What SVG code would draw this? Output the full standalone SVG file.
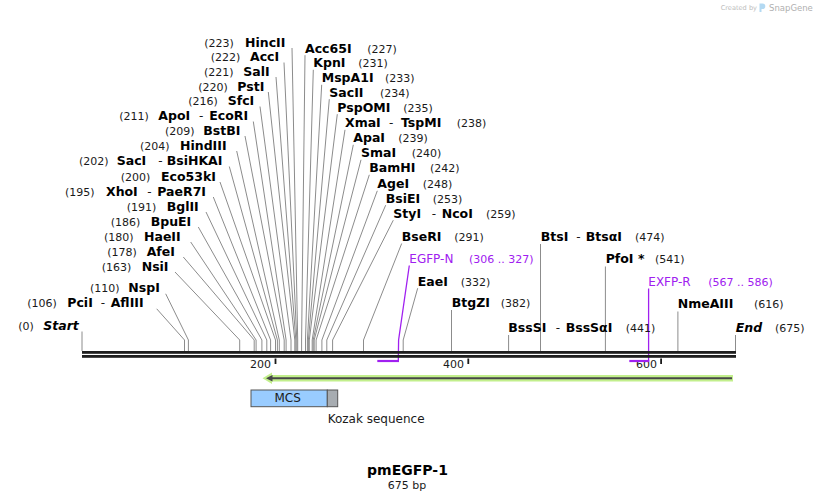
<svg xmlns="http://www.w3.org/2000/svg" width="818" height="501" viewBox="0 0 818 501">
<style>
text{font-family:"DejaVu Sans","Liberation Sans",sans-serif;fill:#1a1a1a}
.n{font-size:11px}
.b{font-size:12.5px;font-weight:bold;fill:#000}
.bi{font-size:12.5px;font-weight:bold;font-style:italic;fill:#000}
.d{font-size:12px}
.p{font-size:12px;fill:#a020f0}
.pn{font-size:11px;fill:#a020f0}
.ld{fill:none;stroke:#8c8c8c;stroke-width:1}
.pl{fill:none;stroke:#a020f0;stroke-width:1.3}
.pb{fill:none;stroke:#a020f0;stroke-width:2.2}
.tk{fill:#1a1a1a}
.tl{font-size:11px}
</style>
<rect width="818" height="501" fill="#fff"/>

<g id="watermark">
<text x="720.7" y="10" style="font-size:6.6px;fill:#bdbdbd">Created by</text>
<path d="M759.5,3.5 h3 a2.8,2.8 0 0 1 0,5.6 h-1 v3 h-2 z" fill="#b3d9f2"/>
<text x="769" y="11" style="font-size:8.5px;fill:#b0b0b0">SnapGene</text>
</g>

<g id="connectors">
<!-- left -->
<polyline class="ld" points="292,48 297.7,340 297.7,351"/>
<polyline class="ld" points="284,62.5 296.8,340 296.8,351"/>
<polyline class="ld" points="276,77 295.8,340 295.8,351"/>
<polyline class="ld" points="268.3,92 294.8,340 294.8,351"/>
<polyline class="ld" points="260,106.5 291,340 291,351"/>
<polyline class="ld" points="253.3,121.5 286.1,340 286.1,351"/>
<polyline class="ld" points="245,136 284.2,340 284.2,351"/>
<polyline class="ld" points="236.7,151 279.3,340 279.3,351"/>
<polyline class="ld" points="229.3,166.5 277.4,340 277.4,351"/>
<polyline class="ld" points="220,182 275.5,340 275.5,351"/>
<polyline class="ld" points="213.3,197 270.6,340 270.6,351"/>
<polyline class="ld" points="206,212 266.8,340 266.8,351"/>
<polyline class="ld" points="198.3,227 261.9,340 261.9,351"/>
<polyline class="ld" points="190.7,242 256.1,340 256.1,351"/>
<polyline class="ld" points="183.3,257 254.2,340 254.2,351"/>
<polyline class="ld" points="175,272 239.7,340 239.7,351"/>
<polyline class="ld" points="165.7,293.8 188.4,340 188.4,351"/>
<polyline class="ld" points="156.7,308.8 184.5,340 184.5,351"/>
<polyline class="ld" points="82,331.5 82,351"/>
<!-- right -->
<polyline class="ld" points="305,55.2 301.6,340 301.6,351"/>
<polyline class="ld" points="313.3,69.8 305.5,340 305.5,351"/>
<polyline class="ld" points="321.7,84.8 307.4,340 307.4,351"/>
<polyline class="ld" points="329.3,99.2 308.4,340 308.4,351"/>
<polyline class="ld" points="337.3,114.2 309.3,340 309.3,351"/>
<polyline class="ld" points="345,129.8 312.2,340 312.2,351"/>
<polyline class="ld" points="353.3,144.8 313.2,340 313.2,351"/>
<polyline class="ld" points="361,159.8 314.2,340 314.2,351"/>
<polyline class="ld" points="369.3,174.8 316.1,340 316.1,351"/>
<polyline class="ld" points="377.3,190.8 321.9,340 321.9,351"/>
<polyline class="ld" points="385.7,205.2 326.8,340 326.8,351"/>
<polyline class="ld" points="393.3,220.2 332.6,340 332.6,351"/>
<polyline class="ld" points="401.7,243.5 363.5,340 363.5,351"/>
<polyline class="ld" points="417.7,288.2 403.2,340 403.2,351"/>
<polyline class="ld" points="451.5,310 451.5,351"/>
<polyline class="ld" points="540.5,244 540.5,351"/>
<polyline class="ld" points="605.4,266.5 605.4,351"/>
<polyline class="ld" points="677.9,311.5 677.9,351"/>
<polyline class="ld" points="508.6,335 508.6,351"/>
<polyline class="ld" points="735.5,335 735.5,351"/>
<!-- primers -->
<polyline class="pl" points="409.3,265.5 398.6,340 398.3,361"/>
<polyline class="pl" points="648.6,288.5 648.6,361"/>
</g>

<g id="backbone">
<rect x="82" y="351" width="654" height="2.8" fill="#1e1e1e"/>
<rect x="82" y="355" width="654" height="2.8" fill="#1e1e1e"/>
</g>

<g id="ruler">
<rect class="tk" x="274.6" y="358.5" width="1.8" height="5.5"/>
<rect class="tk" x="467.4" y="358.5" width="1.8" height="5.5"/>
<rect class="tk" x="660.2" y="358.5" width="1.8" height="5.5"/>
<text class="tl" x="271" y="368" text-anchor="end">200</text>
<text class="tl" x="464" y="368" text-anchor="end">400</text>
<text class="tl" x="657" y="368" text-anchor="end">600</text>
</g>

<g id="primer-EGFP-N">
<line class="pb" x1="377.3" y1="361" x2="399" y2="361"/>
<text class="p" x="409.3" y="262.7">EGFP-N</text>
<text class="pn" x="469" y="262.7">(306 .. 327)</text>
</g>
<g id="primer-EXFP-R">
<line class="pb" x1="629.3" y1="361" x2="649.3" y2="361"/>
<text class="p" x="648.3" y="285.7">EXFP-R</text>
<text class="pn" x="708.3" y="285.7">(567 .. 586)</text>
</g>

<g id="feature-ORF">
<polygon points="262.5,378.2 272,372.5 272,375 733,375 733,381.5 272,381.5 272,384" fill="#c2ef8c"/>
<line x1="269" y1="378.2" x2="732" y2="378.2" stroke="#474747" stroke-width="2"/>
<polygon points="266,378.2 272.5,375 272.5,381.4" fill="#474747"/>
</g>

<g id="feature-MCS">
<rect x="251" y="390" width="76.3" height="16.7" fill="#99ccff" stroke="#555" stroke-width="1"/>
<text class="d" x="287.7" y="401.7" text-anchor="middle">MCS</text>
</g>
<g id="feature-Kozak">
<rect x="327.3" y="390" width="10.4" height="16.7" fill="#a7acb1" stroke="#555" stroke-width="1"/>
<text class="d" x="327.7" y="423">Kozak sequence</text>
</g>

<!-- left labels -->
<g id="site-HincII"><text class="n" x="204.3" y="46.5">(223)</text><text class="b" x="245" y="46.5">HincII</text></g>
<g id="site-AccI"><text class="n" x="210.7" y="61">(222)</text><text class="b" x="250" y="61">AccI</text></g>
<g id="site-SalI"><text class="n" x="204" y="75.5">(221)</text><text class="b" x="243.3" y="75.5">SalI</text></g>
<g id="site-PstI"><text class="n" x="198.3" y="90.5">(220)</text><text class="b" x="237.3" y="90.5">PstI</text></g>
<g id="site-SfcI"><text class="n" x="188.3" y="105">(216)</text><text class="b" x="227.7" y="105">SfcI</text></g>
<g id="site-ApoI-EcoRI"><text class="n" x="119.3" y="120">(211)</text><text class="b" x="158.3" y="120">ApoI</text><text class="d" x="199" y="120">-</text><text class="b" x="209.3" y="120">EcoRI</text></g>
<g id="site-BstBI"><text class="n" x="165" y="134.5">(209)</text><text class="b" x="203.3" y="134.5">BstBI</text></g>
<g id="site-HindIII"><text class="n" x="140" y="149.5">(204)</text><text class="b" x="180" y="149.5">HindIII</text></g>
<g id="site-SacI-BsiHKAI"><text class="n" x="79" y="165">(202)</text><text class="b" x="116.7" y="165">SacI</text><text class="d" x="158.3" y="165">-</text><text class="b" x="166.7" y="165">BsiHKAI</text></g>
<g id="site-Eco53kI"><text class="n" x="120.7" y="180.5">(200)</text><text class="b" x="161" y="180.5">Eco53kI</text></g>
<g id="site-XhoI-PaeR7I"><text class="n" x="65" y="195.5">(195)</text><text class="b" x="106" y="195.5">XhoI</text><text class="d" x="147.3" y="195.5">-</text><text class="b" x="157.3" y="195.5">PaeR7I</text></g>
<g id="site-BglII"><text class="n" x="126.7" y="210.5">(191)</text><text class="b" x="166.7" y="210.5">BglII</text></g>
<g id="site-BpuEI"><text class="n" x="110.7" y="225.5">(186)</text><text class="b" x="150.7" y="225.5">BpuEI</text></g>
<g id="site-HaeII"><text class="n" x="104" y="240.5">(180)</text><text class="b" x="144" y="240.5">HaeII</text></g>
<g id="site-AfeI"><text class="n" x="107.3" y="255.5">(178)</text><text class="b" x="146.7" y="255.5">AfeI</text></g>
<g id="site-NsiI"><text class="n" x="101.7" y="270.5">(163)</text><text class="b" x="141.7" y="270.5">NsiI</text></g>
<g id="site-NspI"><text class="n" x="90" y="292.3">(110)</text><text class="b" x="128.3" y="292.3">NspI</text></g>
<g id="site-PciI-AflIII"><text class="n" x="27.3" y="307.3">(106)</text><text class="b" x="67.3" y="307.3">PciI</text><text class="d" x="100.7" y="307.3">-</text><text class="b" x="110.7" y="307.3">AflIII</text></g>
<g id="site-Start"><text class="n" x="18.3" y="329.5">(0)</text><text class="bi" x="43.3" y="329.5">Start</text></g>

<!-- right labels -->
<g id="site-Acc65I"><text class="b" x="305" y="52.7">Acc65I</text><text class="n" x="367.3" y="52.7">(227)</text></g>
<g id="site-KpnI"><text class="b" x="313.3" y="67.3">KpnI</text><text class="n" x="358.3" y="67.3">(231)</text></g>
<g id="site-MspA1I"><text class="b" x="321.7" y="82.3">MspA1I</text><text class="n" x="385" y="82.3">(233)</text></g>
<g id="site-SacII"><text class="b" x="329.3" y="96.7">SacII</text><text class="n" x="380" y="96.7">(234)</text></g>
<g id="site-PspOMI"><text class="b" x="337.3" y="111.7">PspOMI</text><text class="n" x="403.3" y="111.7">(235)</text></g>
<g id="site-XmaI-TspMI"><text class="b" x="345" y="127.3">XmaI</text><text class="d" x="389" y="127.3">-</text><text class="b" x="401" y="127.3">TspMI</text><text class="n" x="456.7" y="127.3">(238)</text></g>
<g id="site-ApaI"><text class="b" x="353.3" y="142.3">ApaI</text><text class="n" x="398.3" y="142.3">(239)</text></g>
<g id="site-SmaI"><text class="b" x="361" y="157.3">SmaI</text><text class="n" x="411.7" y="157.3">(240)</text></g>
<g id="site-BamHI"><text class="b" x="369.3" y="172.3">BamHI</text><text class="n" x="430" y="172.3">(242)</text></g>
<g id="site-AgeI"><text class="b" x="377.3" y="188.3">AgeI</text><text class="n" x="422.7" y="188.3">(248)</text></g>
<g id="site-BsiEI"><text class="b" x="385.7" y="202.7">BsiEI</text><text class="n" x="432.7" y="202.7">(253)</text></g>
<g id="site-StyI-NcoI"><text class="b" x="393.3" y="217.7">StyI</text><text class="d" x="431.7" y="217.7">-</text><text class="b" x="441.7" y="217.7">NcoI</text><text class="n" x="486" y="217.7">(259)</text></g>
<g id="site-BseRI"><text class="b" x="401.7" y="241">BseRI</text><text class="n" x="454.3" y="241">(291)</text></g>
<g id="site-EaeI"><text class="b" x="417.7" y="285.7">EaeI</text><text class="n" x="460.7" y="285.7">(332)</text></g>
<g id="site-BtgZI"><text class="b" x="451.7" y="307.3">BtgZI</text><text class="n" x="500.7" y="307.3">(382)</text></g>
<g id="site-BtsI-BtsaI"><text class="b" x="540.7" y="240.7">BtsI</text><text class="d" x="576.3" y="240.7">-</text><text class="b" x="585.7" y="240.7">BtsαI</text><text class="n" x="635" y="240.7">(474)</text></g>
<g id="site-PfoI"><text class="b" x="605.7" y="263.3">PfoI *</text><text class="n" x="655" y="263.3">(541)</text></g>
<g id="site-NmeAIII"><text class="b" x="677.7" y="308.3">NmeAIII</text><text class="n" x="754" y="308.3">(616)</text></g>
<g id="site-BssSI-BssSaI"><text class="b" x="508.3" y="331.7">BssSI</text><text class="d" x="555.7" y="331.7">-</text><text class="b" x="565.7" y="331.7">BssSαI</text><text class="n" x="625.7" y="331.7">(441)</text></g>
<g id="site-End"><text class="bi" x="735.7" y="331.7">End</text><text class="n" x="775" y="331.7">(675)</text></g>

<g id="title">
<text x="407.5" y="475" text-anchor="middle" style="font-size:14px;font-weight:bold;fill:#000">pmEGFP-1</text>
<text x="407" y="488.5" text-anchor="middle" style="font-size:11px">675 bp</text>
</g>
</svg>
